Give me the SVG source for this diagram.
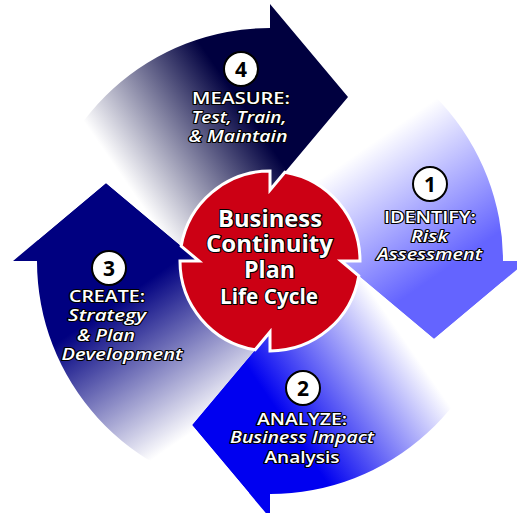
<svg xmlns="http://www.w3.org/2000/svg" width="517" height="513" viewBox="0 0 517 513">
<defs>
<linearGradient id="g1" gradientUnits="userSpaceOnUse" x1="187" y1="271" x2="270" y2="391"><stop offset="0" stop-color="#ffffff"/><stop offset="1" stop-color="#6464ff"/></linearGradient>
<linearGradient id="g2" gradientUnits="userSpaceOnUse" x1="115.2" y1="-79.5" x2="-4.1" y2="2.8"><stop offset="0" stop-color="#ffffff"/><stop offset="1" stop-color="#0000f0"/></linearGradient>
<linearGradient id="g3" gradientUnits="userSpaceOnUse" x1="264" y1="383" x2="179" y2="259"><stop offset="0" stop-color="#ffffff"/><stop offset="1" stop-color="#000080"/></linearGradient>
<linearGradient id="g4" gradientUnits="userSpaceOnUse" x1="0" y1="0" x2="115.2" y2="-79.5"><stop offset="0" stop-color="#ffffff"/><stop offset="1" stop-color="#00003f"/></linearGradient>
</defs>
<style>
.lbl{font-family:"Open Sans","Liberation Sans",sans-serif;font-weight:600;font-size:17px;fill:#fff;stroke:#000;stroke-width:2.2;paint-order:stroke;stroke-linejoin:round;text-anchor:middle}
.it{font-style:italic}
.ctr{font-family:"Open Sans","Liberation Sans",sans-serif;font-weight:bold;font-size:23px;fill:#fff;stroke:#000;stroke-width:2.2;paint-order:stroke;stroke-linejoin:round;text-anchor:middle}
.badge{fill:#fff;stroke:#000;stroke-width:2}
.dig{font-family:"Open Sans","Liberation Sans",sans-serif;font-weight:bold;font-size:21px;fill:#000;text-anchor:middle}
</style>
<rect width="517" height="513" fill="#fff"/>
<g id="connectors">
<path id="arrow1" d="M 290.9,28.9 A 233 233 0 0 1 503,261 L 527,261 L 434,339 L 341,261 L 358,261 A 88 88 0 0 0 283.4,174 L 348,97 Z" fill="url(#g1)"/>
<path id="arrow2" d="M 502.1,281.9 A 233 233 0 0 1 270,494 L 270,518 L 192,425 L 270,332 L 270,349 A 88 88 0 0 0 357,274.4 L 434,339 Z" fill="url(#g2)"/>
<path id="arrow3" d="M 249.1,493.1 A 233 233 0 0 1 37,261 L 13,261 L 106,183 L 199,261 L 182,261 A 88 88 0 0 0 256.6,348 L 192,425 Z" fill="url(#g3)"/>
<path id="arrow4" d="M 37.9,240.1 A 233 233 0 0 1 270,28 L 270,4 L 348,97 L 270,190 L 270,173 A 88 88 0 0 0 183,247.6 L 106,183 Z" fill="url(#g4)"/>
</g>
<g id="center">
<path d="M 284.9,172.2 A 90 90 0 0 1 360,261 L 341,261 L 358.8,275.9 A 90 90 0 0 1 270,351 L 270,332 L 255.1,349.8 A 90 90 0 0 1 180,261 L 199,261 L 181.2,246.1 A 90 90 0 0 1 270,171 L 270,190 Z" fill="#cc0014" stroke="#fff" stroke-width="3"/>
<text class="ctr" x="270" y="227" textLength="104" lengthAdjust="spacingAndGlyphs">Business</text>
<text class="ctr" x="269.5" y="252" textLength="127" lengthAdjust="spacingAndGlyphs">Continuity</text>
<text class="ctr" x="269.5" y="278" textLength="51" lengthAdjust="spacingAndGlyphs">Plan</text>
<text class="ctr" x="269" y="304" style="font-size:21px" textLength="98" lengthAdjust="spacingAndGlyphs">Life Cycle</text>
</g>
<g id="step1">
<circle class="badge" cx="430" cy="184" r="17"/>
<text class="dig" x="430" y="191.5">1</text>
<text class="lbl" x="430" y="223" textLength="92" lengthAdjust="spacingAndGlyphs">IDENTIFY:</text>
<text class="lbl it" x="429.5" y="242" textLength="37" lengthAdjust="spacingAndGlyphs">Risk</text>
<text class="lbl it" x="429.5" y="260" textLength="105" lengthAdjust="spacingAndGlyphs">Assessment</text>
</g>
<g id="step2">
<circle class="badge" cx="303" cy="388" r="17"/>
<text class="dig" x="303" y="395.5">2</text>
<text class="lbl" x="302" y="425" textLength="90" lengthAdjust="spacingAndGlyphs">ANALYZE:</text>
<text class="lbl it" x="302" y="443" textLength="144" lengthAdjust="spacingAndGlyphs">Business Impact</text>
<text class="lbl" x="302" y="463" textLength="75" lengthAdjust="spacingAndGlyphs">Analysis</text>
</g>
<g id="step3">
<circle class="badge" cx="109" cy="268" r="17"/>
<text class="dig" x="109" y="275.5">3</text>
<text class="lbl" x="107" y="302" textLength="76" lengthAdjust="spacingAndGlyphs">CREATE:</text>
<text class="lbl it" x="107" y="321" textLength="78" lengthAdjust="spacingAndGlyphs">Strategy</text>
<text class="lbl it" x="106" y="341" textLength="58" lengthAdjust="spacingAndGlyphs">&amp; Plan</text>
<text class="lbl it" x="122" y="360" textLength="121" lengthAdjust="spacingAndGlyphs">Development</text>
</g>
<g id="step4">
<circle class="badge" cx="241" cy="69" r="17"/>
<text class="dig" x="241" y="76.5">4</text>
<text class="lbl" x="241" y="104" textLength="98" lengthAdjust="spacingAndGlyphs">MEASURE:</text>
<text class="lbl it" x="239" y="123" textLength="95" lengthAdjust="spacingAndGlyphs">Test, Train,</text>
<text class="lbl it" x="238" y="142" textLength="99" lengthAdjust="spacingAndGlyphs">&amp; Maintain</text>
</g>
</svg>
